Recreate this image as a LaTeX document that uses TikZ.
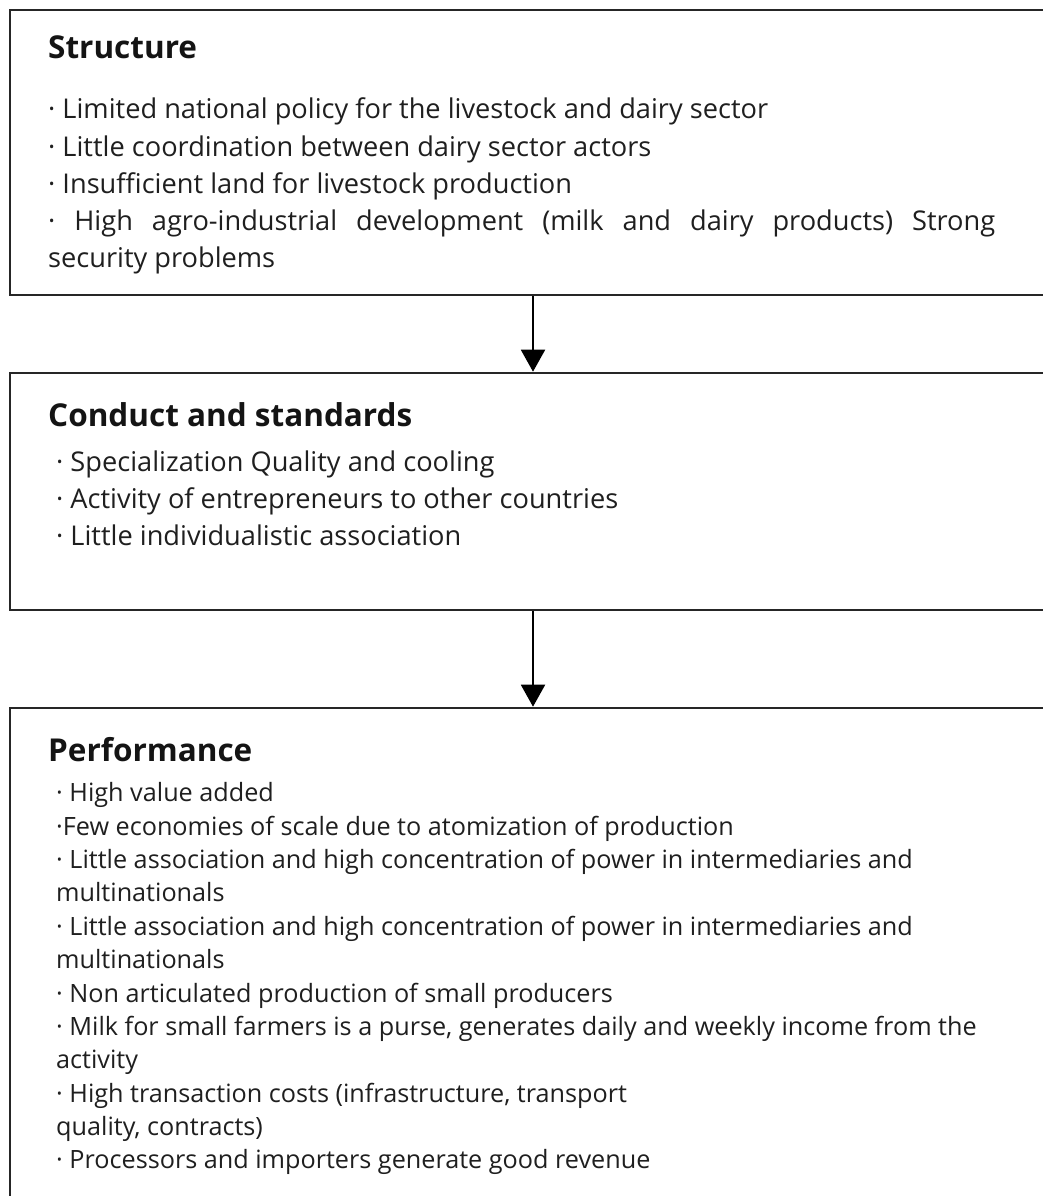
\documentclass[tikz,border=0pt]{standalone}
\usepackage{fontspec}
\setmainfont{Open Sans}
\usetikzlibrary{arrows.meta}
\tikzset{
  panel/.style={draw=black!85, line width=2.6pt, rectangle, inner sep=0pt, minimum width=1046pt},
  heading/.style={anchor=base west, inner sep=0pt, font=\fontsize{31.5}{31.5}\selectfont\bfseries, text=black!92},
  item/.style={anchor=base west, inner sep=0pt, font=\fontsize{27.2}{27.2}\selectfont, text=black!88},
  itemsm/.style={anchor=base west, inner sep=0pt, font=\fontsize{25.2}{25.2}\selectfont, text=black!88},
  flow/.style={line width=2pt, draw=black, -{Triangle[width=24pt,length=22pt]}}
}
\newcommand{\bul}{·}
\begin{document}
\begin{tikzpicture}[x=1pt, y=-1pt]
\clip (0,0) rectangle (1043,1196);
\fill[white] (0,0) rectangle (1043,1196);

% three stacked panels, right edge runs off the page
\node[panel, minimum height=285pt] (s) at (533,152.5) {};
\node[panel, minimum height=237pt] (c) at (533,491.5) {};
\node[panel, minimum height=520pt] (p) at (533,968) {};

\draw[flow] (s.south) -- (c.north);
\draw[flow] (c.south) -- (p.north);

% Structure
\node[heading] (sh) at (48,59) {Structure};
\node[item] (s1) at (48,118) {\bul\ Limited national policy for the livestock and dairy sector};
\node[item] (s2) at (48,156) {\bul\ Little coordination between dairy sector actors};
\node[item] (s3) at (48,193) {\bul\ Insufficient land for livestock production};
\node[item] (s4) at (48,230) {\makebox[947pt][s]{\bul\ High agro-industrial development (milk and dairy products) Strong}};
\node[item] (s5) at (48,267) {security problems};

% Conduct and standards
\node[heading] (ch) at (48,426) {Conduct and standards};
\node[item] (c1) at (56,471) {\bul\ Specialization Quality and cooling};
\node[item] (c2) at (56,508) {\bul\ Activity of entrepreneurs to other countries};
\node[item] (c3) at (56,545) {\bul\ Little individualistic association};

% Performance
\node[heading] (ph) at (48,761) {Performance};
\node[itemsm] (p1) at (56,801) {\bul\ High value added};
\node[itemsm] (p2) at (56,835) {\bul Few economies of scale due to atomization of production};
\node[itemsm] (p3) at (56,868) {\bul\ Little association and high concentration of power in intermediaries and};
\node[itemsm] (p4) at (56,901) {multinationals};
\node[itemsm] (p5) at (56,935) {\bul\ Little association and high concentration of power in intermediaries and};
\node[itemsm] (p6) at (56,968) {multinationals};
\node[itemsm] (p7) at (56,1002) {\bul\ Non articulated production of small producers};
\node[itemsm] (p8) at (56,1035) {\bul\ Milk for small farmers is a purse, generates daily and weekly income from the};
\node[itemsm] (p9) at (56,1068) {activity};
\node[itemsm] (p10) at (56,1102) {\bul\ High transaction costs (infrastructure, transport};
\node[itemsm] (p11) at (56,1135) {quality, contracts)};
\node[itemsm] (p12) at (56,1168) {\bul\ Processors and importers generate good revenue};
\end{tikzpicture}
\end{document}
